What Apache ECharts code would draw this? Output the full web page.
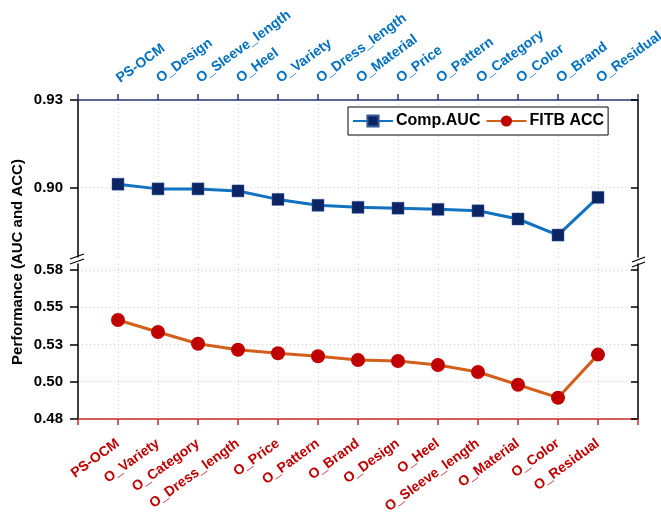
<!DOCTYPE html>
<html>
<head>
<meta charset="utf-8">
<script src="https://cdn.jsdelivr.net/npm/echarts@6/dist/echarts.min.js"></script>
<style>
  html, body { margin: 0; padding: 0; background: #fff; }
  #chart { width: 661px; height: 512px; }
</style>
</head>
<body>
<div id="chart"></div>
<script>
// top panel (Comp.AUC), order of the blue labels
const topLabels = ['PS-OCM', 'O_Design', 'O_Sleeve_length', 'O_Heel', 'O_Variety', 'O_Dress_length', 'O_Material', 'O_Price', 'O_Pattern', 'O_Category', 'O_Color', 'O_Brand', 'O_Residual']
const aucValues = [0.9012, 0.8996, 0.8996, 0.8989, 0.8960, 0.8940, 0.8933, 0.8930, 0.8926, 0.8921, 0.8893, 0.8838, 0.8967]

// bottom panel (FITB ACC), order of the red labels
const bottomLabels = ['PS-OCM', 'O_Variety', 'O_Category', 'O_Dress_length', 'O_Price', 'O_Pattern', 'O_Brand', 'O_Design', 'O_Heel', 'O_Sleeve_length', 'O_Material', 'O_Color', 'O_Residual']
const fitbValues = [0.5414, 0.5334, 0.5255, 0.5215, 0.5191, 0.5171, 0.5146, 0.5139, 0.5112, 0.5065, 0.4980, 0.4893, 0.5182]

// y tick values and their printed labels
const topTicks = [0.90, 0.93]
const topTickLabels = ['0.90', '0.93']
const bottomTicks = [0.475, 0.5, 0.525, 0.55, 0.575]
const bottomTickLabels = ['0.48', '0.50', '0.53', '0.55', '0.58']

const FONT = "'Liberation Sans', Arial, sans-serif"
const gridDot = { show: true, lineStyle: { color: '#cfcfcf', type: [1, 3], width: 1 } }

function tickLabel(ticks, labels) {
  return function(v) {
    let best = 0
    for (let i = 1; i < ticks.length; i++) {
      if (Math.abs(ticks[i] - v) < Math.abs(ticks[best] - v)) best = i
    }
    return labels[best]
  }
}

function pairs(values) {
  return values.map((v, i) => [i + 1, v])
}

const chart = echarts.init(document.getElementById('chart'))

const options = {
  animation: false,
  textStyle: { fontFamily: FONT },
  grid: [
    { left: 78, width: 560, top: 100, height: 157, outerBoundsMode: 'none', containLabel: false },
    { left: 78, width: 560, top: 264, height: 155, outerBoundsMode: 'none', containLabel: false }
  ],
  legend: {
    data: ['Comp.AUC', 'FITB ACC'],
    left: 348,
    top: 107,
    orient: 'horizontal',
    padding: [6, 4],
    itemWidth: 40,
    itemHeight: 14,
    itemGap: 5,
    backgroundColor: '#fff',
    borderColor: '#000',
    borderWidth: 1,
    textStyle: { fontFamily: FONT, fontWeight: 'bold', fontSize: 16, color: '#000', padding: [0, 0, 0, -2] }
  },
  xAxis: [
    {
      gridIndex: 0,
      type: 'value',
      position: 'top',
      min: 0,
      max: 14,
      interval: 1,
      axisLine: { show: true, lineStyle: { color: '#27397a', width: 1.5 } },
      axisTick: { show: true, inside: false, length: 6, lineStyle: { color: '#27397a', width: 1.5 } },
      axisLabel: {
        rotate: -36,
        margin: 20,
        color: '#0070c0',
        fontWeight: 'bold',
        fontSize: 14,
        fontFamily: FONT,
        formatter: v => topLabels[v - 1] || ''
      },
      splitLine: gridDot
    },
    {
      gridIndex: 1,
      type: 'value',
      position: 'bottom',
      min: 0,
      max: 14,
      interval: 1,
      axisLine: { show: true, lineStyle: { color: '#cc2a2a', width: 1.5 } },
      axisTick: { show: true, inside: false, length: 6, lineStyle: { color: '#cc2a2a', width: 1.5 } },
      axisLabel: {
        rotate: 36,
        margin: 23,
        color: '#c00000',
        fontWeight: 'bold',
        fontSize: 14,
        fontFamily: FONT,
        formatter: v => bottomLabels[v - 1] || ''
      },
      splitLine: gridDot
    }
  ],
  yAxis: [
    {
      gridIndex: 0,
      type: 'value',
      position: 'left',
      min: 0.8763,
      max: 0.93,
      axisLine: { show: true, lineStyle: { color: '#000', width: 1.5 } },
      axisTick: { show: true, inside: false, length: 8, customValues: topTicks, lineStyle: { color: '#000', width: 1.5 } },
      axisLabel: {
        customValues: topTicks,
        margin: 15,
        color: '#000',
        fontWeight: 'bold',
        fontSize: 15,
        fontFamily: FONT,
        formatter: tickLabel(topTicks, topTickLabels)
      },
      splitLine: gridDot
    },
    {
      gridIndex: 0,
      type: 'value',
      position: 'right',
      min: 0.8763,
      max: 0.93,
      axisLine: { show: true, lineStyle: { color: '#000', width: 1.5 } },
      axisTick: { show: true, inside: true, length: 7, customValues: topTicks, lineStyle: { color: '#000', width: 1.5 } },
      axisLabel: { show: false },
      splitLine: { show: false }
    },
    {
      gridIndex: 1,
      type: 'value',
      position: 'left',
      min: 0.475,
      max: 0.579,
      axisLine: { show: true, lineStyle: { color: '#000', width: 1.5 } },
      axisTick: { show: true, inside: false, length: 8, customValues: bottomTicks, lineStyle: { color: '#000', width: 1.5 } },
      axisLabel: {
        customValues: bottomTicks,
        margin: 15,
        color: '#000',
        fontWeight: 'bold',
        fontSize: 15,
        fontFamily: FONT,
        formatter: tickLabel(bottomTicks, bottomTickLabels)
      },
      splitLine: gridDot
    },
    {
      gridIndex: 1,
      type: 'value',
      position: 'right',
      min: 0.475,
      max: 0.579,
      axisLine: { show: true, lineStyle: { color: '#000', width: 1.5 } },
      axisTick: { show: true, inside: true, length: 7, customValues: bottomTicks, lineStyle: { color: '#000', width: 1.5 } },
      axisLabel: { show: false },
      splitLine: { show: false }
    }
  ],
  series: [
    {
      name: 'Comp.AUC',
      type: 'line',
      xAxisIndex: 0,
      yAxisIndex: 0,
      data: pairs(aucValues),
      symbol: 'rect',
      symbolSize: 12,
      lineStyle: { color: '#1173c0', width: 3 },
      itemStyle: { color: '#0b2463', borderColor: '#3a5a9a', borderWidth: 0.5 }
    },
    {
      name: 'FITB ACC',
      type: 'line',
      xAxisIndex: 1,
      yAxisIndex: 2,
      data: pairs(fitbValues),
      symbol: 'circle',
      symbolSize: 14,
      lineStyle: { color: '#d2601a', width: 3 },
      itemStyle: { color: '#c00000' }
    }
  ],
  graphic: [
    {
      type: 'text',
      x: 18,
      y: 262,
      rotation: Math.PI / 2,
      style: {
        text: 'Performance (AUC and ACC)',
        font: 'bold 15px ' + FONT,
        fill: '#000',
        align: 'center',
        verticalAlign: 'middle'
      }
    },
    // axis break marks
    { type: 'line', shape: { x1: 70, y1: 259, x2: 84, y2: 254 }, style: { stroke: '#000', lineWidth: 1.3 } },
    { type: 'line', shape: { x1: 70, y1: 264, x2: 84, y2: 259 }, style: { stroke: '#000', lineWidth: 1.3 } },
    { type: 'line', shape: { x1: 632, y1: 262, x2: 645, y2: 257 }, style: { stroke: '#000', lineWidth: 1.3 } },
    { type: 'line', shape: { x1: 632, y1: 267, x2: 645, y2: 262 }, style: { stroke: '#000', lineWidth: 1.3 } }
  ]
}

chart.setOption(options)
</script>
</body>
</html>
